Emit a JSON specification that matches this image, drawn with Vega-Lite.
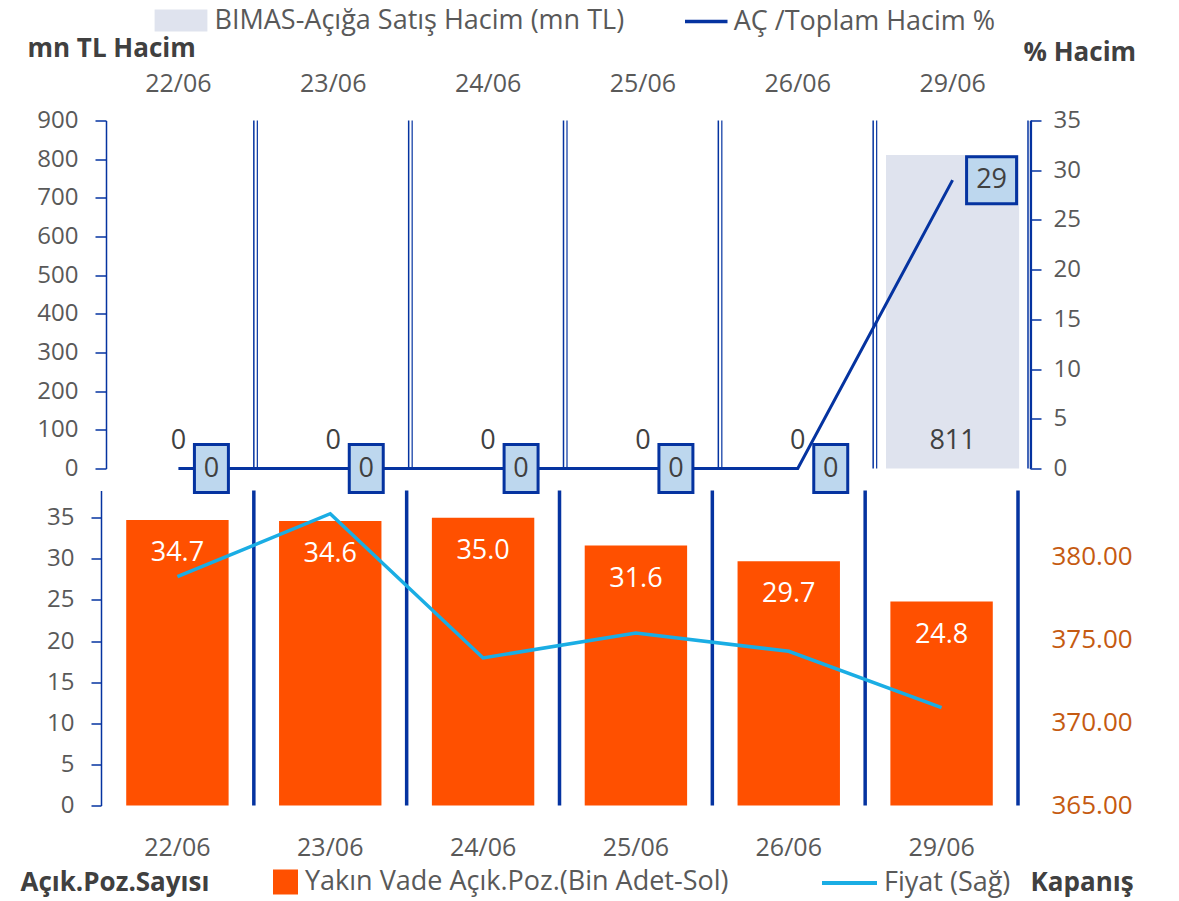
{
  "$schema": "https://vega.github.io/schema/vega-lite/v6.json",
  "padding": {"left": 20, "top": 6.5, "right": 10, "bottom": 5},
  "background": "white",
  "config": {
    "font": "Open Sans",
    "view": {"stroke": null},
    "axis": {"labelFont": "Open Sans", "labelFontSize": 24, "labelColor": "#595959", "grid": false, "titleFont": "Open Sans", "labelOverlap": false},
    "legend": {"labelFont": "Open Sans", "labelFontSize": 27, "labelColor": "#595959", "padding": 0, "title": null, "labelLimit": 700}
  },
  "datasets": {
    "top": [
      {"date": "22/06", "vol": 0, "pct": 0},
      {"date": "23/06", "vol": 0, "pct": 0},
      {"date": "24/06", "vol": 0, "pct": 0},
      {"date": "25/06", "vol": 0, "pct": 0},
      {"date": "26/06", "vol": 0, "pct": 0},
      {"date": "29/06", "vol": 811, "pct": 29}
    ],
    "bottom": [
      {"date": "22/06", "poz": 34.7, "fiyat": 378.8},
      {"date": "23/06", "poz": 34.6, "fiyat": 382.6},
      {"date": "24/06", "poz": 35.0, "fiyat": 373.9},
      {"date": "25/06", "poz": 31.6, "fiyat": 375.4},
      {"date": "26/06", "poz": 29.7, "fiyat": 374.3},
      {"date": "29/06", "poz": 24.8, "fiyat": 370.9}
    ]
  },
  "spacing": 22,
  "bounds": "flush",
  "resolve": {
    "scale": {"fill": "independent", "stroke": "independent"},
    "legend": {"fill": "independent", "stroke": "independent"}
  },
  "vconcat": [
    {
      "width": 929,
      "height": 348,
      "data": {"name": "top"},
      "resolve": {"scale": {"y": "independent"}},
      "layer": [
        {
          "mark": {"type": "bar", "width": {"band": 0.86}},
          "encoding": {
            "x": {"field": "date", "type": "ordinal", "scale": {"paddingInner": 0, "paddingOuter": 0},
              "axis": {"orient": "top", "title": null, "domain": false, "ticks": false, "labelAngle": 0, "labelPadding": 24, "labelFontSize": 25}},
            "y": {"field": "vol", "type": "quantitative", "scale": {"domain": [0, 900], "nice": false},
              "axis": {"orient": "left", "values": [0, 100, 200, 300, 400, 500, 600, 700, 800, 900], "labelOverlap": false, "labelFlush": false,
                "title": "mn TL Hacim", "titleX": -79, "titleY": -72, "titleAngle": 0, "titleAlign": "left", "titleBaseline": "middle",
                "titleFontSize": 26, "titleFontWeight": "bold", "titleColor": "#404040",
                "domainColor": "#0533A0", "domainWidth": 1.5, "tickColor": "#0533A0", "tickWidth": 1.5, "tickSize": 11,
                "labelPadding": 17, "offset": -5}},
            "fill": {"datum": "BIMAS-Açığa Satış Hacim (mn TL)", "type": "nominal", "scale": {"range": ["#DFE3EE"]},
              "legend": {"orient": "none", "legendX": 66.5, "legendY": -113.5, "symbolType": "M-2.4,-1H2.4V1H-2.4Z", "symbolSize": 484, "symbolStrokeColor": "#DFE3EE", "symbolStrokeWidth": 0, "labelOffset": 20}}
          }
        },
        {
          "mark": {"type": "text", "dy": -28, "fontSize": 27, "color": "#404040", "baseline": "middle"},
          "encoding": {
            "x": {"field": "date", "type": "ordinal"},
            "y": {"datum": 0, "type": "quantitative", "scale": {"domain": [0, 900], "nice": false}, "axis": null},
            "text": {"field": "vol", "type": "quantitative"}
          }
        },
        {
          "mark": {"type": "rule", "xOffset": -2, "color": "#0533A0", "strokeWidth": 1.5},
          "encoding": {"x": {"field": "date", "type": "ordinal", "bandPosition": 1}}
        },
        {
          "mark": {"type": "rule", "xOffset": 1.5, "color": "#0533A0", "strokeWidth": 1.2},
          "encoding": {"x": {"field": "date", "type": "ordinal", "bandPosition": 1}}
        },
        {
          "layer": [
            {
              "mark": {"type": "line", "strokeWidth": 3},
              "encoding": {
                "x": {"field": "date", "type": "ordinal"},
                "y": {"field": "pct", "type": "quantitative", "scale": {"domain": [0, 35], "nice": false},
                  "axis": {"orient": "right", "values": [0, 5, 10, 15, 20, 25, 30, 35],
                    "title": "% Hacim", "titleX": -7, "titleY": -68, "titleAngle": 0, "titleAlign": "left", "titleBaseline": "middle",
                    "titleFontSize": 26, "titleFontWeight": "bold", "titleColor": "#404040",
                    "domainColor": "#0533A0", "domainWidth": 1.5, "tickColor": "#0533A0", "tickWidth": 1.5, "tickSize": 11,
                    "labelPadding": 12}},
                "stroke": {"datum": "AÇ /Toplam Hacim %", "type": "nominal", "scale": {"range": ["#0533A0"]},
                  "legend": {"orient": "none", "legendX": 590.75, "legendY": -113.5, "symbolType": "M-1.7,0H1.7", "symbolSize": 625, "symbolStrokeWidth": 3.5, "symbolStrokeColor": "#0533A0", "symbolFillColor": "transparent", "labelOffset": 13}}
              }
            },
            {
              "transform": [{"filter": "datum.pct == 0"}],
              "mark": {"type": "point", "filled": true, "fill": "#BDD7EE", "stroke": "#0533A0", "strokeWidth": 3, "opacity": 1, "xOffset": 33, "shape": "M-0.708,-1H0.708V1H-0.708Z", "size": 2304},
              "encoding": {"x": {"field": "date", "type": "ordinal"}, "y": {"field": "pct", "type": "quantitative"}}
            },
            {
              "transform": [{"filter": "datum.pct > 0"}],
              "mark": {"type": "point", "filled": true, "fill": "#BDD7EE", "stroke": "#0533A0", "strokeWidth": 3, "opacity": 1, "xOffset": 39, "shape": "M-1,-0.94H1V0.94H-1Z", "size": 2500},
              "encoding": {"x": {"field": "date", "type": "ordinal"}, "y": {"field": "pct", "type": "quantitative"}}
            },
            {
              "transform": [{"filter": "datum.pct == 0"}],
              "mark": {"type": "text", "dx": 33, "fontSize": 27, "color": "#404040", "baseline": "middle"},
              "encoding": {"x": {"field": "date", "type": "ordinal"}, "y": {"field": "pct", "type": "quantitative"}, "text": {"field": "pct", "type": "quantitative"}}
            },
            {
              "transform": [{"filter": "datum.pct > 0"}],
              "mark": {"type": "text", "dx": 39, "fontSize": 27, "color": "#404040", "baseline": "middle"},
              "encoding": {"x": {"field": "date", "type": "ordinal"}, "y": {"field": "pct", "type": "quantitative"}, "text": {"field": "pct", "type": "quantitative"}}
            }
          ]
        }
      ]
    },
    {
      "width": 917,
      "height": 315,
      "data": {"name": "bottom"},
      "resolve": {"scale": {"y": "independent"}},
      "layer": [
        {
          "layer": [
            {
              "mark": {"type": "bar", "width": {"band": 0.67}},
              "encoding": {
                "x": {"field": "date", "type": "ordinal", "scale": {"paddingInner": 0, "paddingOuter": 0},
                  "axis": {"orient": "bottom", "title": null, "domain": false, "ticks": false, "labelAngle": 0, "labelPadding": 30, "labelFontSize": 25}},
                "y": {"field": "poz", "type": "quantitative", "scale": {"domain": [0, 38.3], "nice": false},
                  "axis": {"orient": "left", "values": [0, 5, 10, 15, 20, 25, 30, 35], "labelOverlap": false,
                    "title": "Açık.Poz.Sayısı", "titleX": -81, "titleY": 392, "titleAngle": 0, "titleAlign": "left", "titleBaseline": "middle",
                    "titleFontSize": 26, "titleFontWeight": "bold", "titleColor": "#404040",
                    "domainColor": "#0533A0", "domainWidth": 1.5, "tickColor": "#0533A0", "tickWidth": 1.5, "tickSize": 10,
                    "labelPadding": 17}},
                "fill": {"datum": "Yakın Vade Açık.Poz.(Bin Adet-Sol)", "type": "nominal", "scale": {"range": ["#FF5000"]},
                  "legend": {"orient": "none", "legendX": 171, "legendY": 378, "symbolType": "square", "symbolSize": 625, "symbolStrokeWidth": 0, "labelOffset": 6}}
              }
            },
            {
              "mark": {"type": "text", "dy": 33, "fontSize": 27, "color": "white", "baseline": "middle"},
              "encoding": {
                "x": {"field": "date", "type": "ordinal"},
                "y": {"field": "poz", "type": "quantitative"},
                "text": {"field": "poz", "type": "quantitative", "format": ".1f"}
              }
            }
          ]
        },
        {
          "mark": {"type": "rule", "color": "#0533A0", "strokeWidth": 3.5},
          "encoding": {"x": {"field": "date", "type": "ordinal", "bandPosition": 1}}
        },
        {
          "mark": {"type": "line", "strokeWidth": 3.5},
          "encoding": {
            "x": {"field": "date", "type": "ordinal"},
            "y": {"field": "fiyat", "type": "quantitative", "scale": {"domain": [365, 384], "nice": false, "zero": false},
              "axis": {"orient": "right", "values": [365, 370, 375, 380], "format": ".2f", "labelColor": "#C55A11", "labelFontSize": 26,
                "domain": false, "ticks": false, "labelPadding": 33,
                "title": "Kapanış", "titleX": 12, "titleY": 392, "titleAngle": 0, "titleAlign": "left", "titleBaseline": "middle",
                "titleFontSize": 26, "titleFontWeight": "bold", "titleColor": "#404040"}},
            "stroke": {"datum": "Fiyat (Sağ)", "type": "nominal", "scale": {"range": ["#1AADE4"]},
              "legend": {"orient": "none", "legendX": 734, "legendY": 378, "symbolType": "M-2.2,0H2.2", "symbolSize": 625, "symbolStrokeWidth": 4, "symbolStrokeColor": "#1AADE4", "symbolFillColor": "transparent", "labelOffset": 20}}
          }
        }
      ]
    }
  ]
}
